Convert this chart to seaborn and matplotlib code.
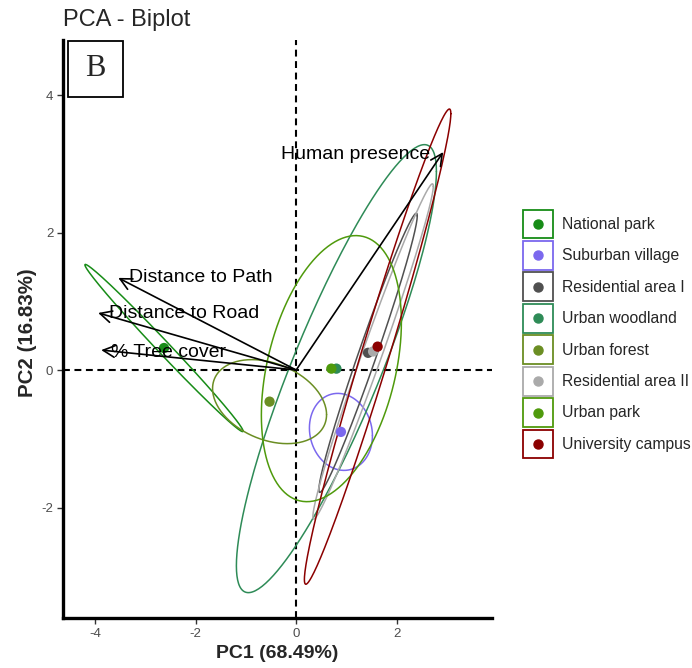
import numpy as np
import pandas as pd
import matplotlib
matplotlib.use("Agg")
import matplotlib.pyplot as plt
import seaborn as sns
from matplotlib.legend_handler import HandlerBase
from matplotlib.patches import Rectangle
from matplotlib.lines import Line2D

# ---------------- data ----------------
groups = ["National park", "Suburban village", "Residential area I", "Urban woodland",
          "Urban forest", "Residential area II", "Urban park", "University campus"]
colors = ["#178C17", "#7B68EE", "#505050", "#2E8B57",
          "#6B8E23", "#AAAAAA", "#4F9A0C", "#8B0000"]
mean_pc1 = [-2.63, 0.89, 1.43, 0.80, -0.53, 1.53, 0.70, 1.62]
mean_pc2 = [0.32, -0.90, 0.25, 0.02, -0.46, 0.27, 0.02, 0.34]
# ellipse half extents along PC1 / PC2 and correlation
ell_sx = [1.574, 0.627, 0.979, 1.99, 1.134, 1.198, 1.393, 1.457]
ell_sy = [1.216, 0.560, 2.03, 3.258, 0.611, 2.438, 1.935, 3.456]
ell_r = [-0.994, -0.10, 0.981, 0.88, -0.31, 0.985, 0.35, 0.980]

variables = ["Human presence", "Distance to Path", "Distance to Road", "% Tree cover"]
arrow_pc1 = [2.925, -3.54, -3.94, -3.88]
arrow_pc2 = [3.17, 1.34, 0.83, 0.29]
label_pc1 = [1.19, -1.90, -2.22, -2.53]
label_pc2 = [3.14, 1.34, 0.815, 0.26]

x_ticks = [-4, -2, 0, 2]
y_ticks = [-2, 0, 2, 4]
title = "PCA - Biplot"
xlab = "PC1 (68.49%)"
ylab = "PC2 (16.83%)"
panel_tag = "B"

# ---------------- build ellipse table ----------------
t = np.linspace(0, 2 * np.pi, 241)
rows = []
for g, cx, cy, sx, sy, r in zip(groups, mean_pc1, mean_pc2, ell_sx, ell_sy, ell_r):
    ex = cx + sx * np.cos(t)
    ey = cy + sy * (r * np.cos(t) + np.sqrt(1 - r * r) * np.sin(t))
    rows.append(pd.DataFrame({"PC1": ex, "PC2": ey, "group": g}))
ell = pd.concat(rows, ignore_index=True)
means = pd.DataFrame({"PC1": mean_pc1, "PC2": mean_pc2, "group": groups})
pal = dict(zip(groups, colors))

# ---------------- figure ----------------
sns.set_theme(style="white")
plt.rcParams["font.family"] = ["Liberation Sans", "DejaVu Sans"]

fig = plt.figure(figsize=(6.92, 6.68), dpi=100)
ax = fig.add_axes([63 / 692, 1 - 618 / 668, (492 - 63) / 692, (618 - 40) / 668])

ax.axhline(0, color="black", lw=1.5, ls=(0, (3.3, 2.2)), zorder=1)
ax.axvline(0, color="black", lw=1.5, ls=(0, (3.3, 2.2)), zorder=1)

sns.lineplot(data=ell, x="PC1", y="PC2", hue="group", palette=pal, sort=False,
             estimator=None, legend=False, lw=1.1, ax=ax, zorder=2)

sns.scatterplot(data=means, x="PC1", y="PC2", hue="group", palette=pal, s=55,
                edgecolor="none", legend=False, ax=ax, zorder=4)

for vx, vy in zip(arrow_pc1, arrow_pc2):
    ax.annotate("", xy=(vx, vy), xytext=(0, 0),
                arrowprops=dict(arrowstyle="->,head_length=0.7,head_width=0.35",
                                lw=1.2, color="black", shrinkA=0, shrinkB=0), zorder=3)
for name, lx, ly in zip(variables, label_pc1, label_pc2):
    ax.text(lx, ly, name, ha="center", va="center", fontsize=14, color="black", zorder=5)

ax.set_xlim(-4.64, 3.896)
ax.set_ylim(-3.607, 4.80)
ax.set_xticks(x_ticks)
ax.set_yticks(y_ticks)
ax.set_xticklabels([str(v) for v in x_ticks])
ax.set_yticklabels([str(v) for v in y_ticks])
ax.tick_params(axis="both", length=4, width=1, color="#333333", labelcolor="#4D4D4D",
               labelsize=9.5, pad=3, bottom=True, left=True)
for s in ["top", "right"]:
    ax.spines[s].set_visible(False)
for s in ["left", "bottom"]:
    ax.spines[s].set_linewidth(2.4)
    ax.spines[s].set_color("black")

ax.set_xlabel(xlab, fontsize=14, fontweight="bold")
ax.set_ylabel(ylab, fontsize=14.8, fontweight="bold")
ax.xaxis.set_label_coords(0.5, (618 - 645) / 578)
ax.yaxis.set_label_coords((37 - 63) / 429, (618 - 333) / 578)

# panel tag
ax.add_patch(Rectangle((5 / 429, 1 - 57 / 578), 55 / 429, 56 / 578, transform=ax.transAxes,
                       fill=False, lw=1.3, edgecolor="black", clip_on=False, zorder=6))
ax.text(32.5 / 429, 1 - 29 / 578, panel_tag, transform=ax.transAxes, ha="center",
        va="center", fontsize=22, family=["Liberation Serif", "DejaVu Serif"], zorder=6)

fig.text(63 / 692, 1 - 20 / 668, title, fontsize=17, ha="left", va="center")


class BoxDot(HandlerBase):
    def create_artists(self, legend, orig_handle, xdescent, ydescent, width, height,
                       fontsize, trans):
        c = orig_handle.get_color()
        rect = Rectangle((-xdescent, -ydescent), width, height, fill=False,
                         edgecolor=c, lw=1.3, transform=trans)
        dot = Line2D([width / 2 - xdescent], [height / 2 - ydescent], marker="o",
                     ms=6.5, color=c, ls="none", transform=trans)
        return [rect, dot]


handles = [Line2D([], [], color=c) for c in colors]
fs = 11.3
em = fs * 100 / 72
leg = fig.legend(handles, groups, handler_map={Line2D: BoxDot()},
                 loc="center left", bbox_to_anchor=(523 / 692, 1 - 334 / 668),
                 bbox_transform=fig.transFigure, frameon=False, fontsize=fs,
                 handlelength=30 / em, handleheight=2.45,
                 handletextpad=9 / em, labelspacing=2.6 / em, borderpad=0,
                 borderaxespad=0)

fig.savefig("out.png", dpi=100)
